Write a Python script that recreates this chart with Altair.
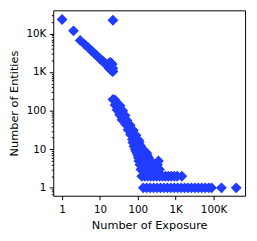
import altair as alt
import pandas as pd

# Upper group (exposure 1..22)
upper_x = [1, 2, 3, 4, 5, 6, 7, 8, 9, 10, 11, 12, 13, 14, 15, 16,
           17, 18, 19, 20, 21, 22, 17, 18, 19, 20, 21, 22, 22]
upper_y = [23000, 11700, 6600, 5140, 4210, 3540, 3080, 2730, 2440, 2200, 2040, 1890, 1760, 1650, 1560, 1480,
           1290, 1230, 1170, 1110, 1060, 1030, 1650, 1750, 1750, 1700, 1600, 1250, 22000]

# Lower diagonal band
band_x = [22, 25, 25, 30, 34, 28, 34, 40, 33, 40, 46, 38, 45, 52, 48, 55, 63,
          55, 66, 76, 64, 74, 89, 72, 86, 106, 74, 89, 109, 79, 97, 120, 86, 106, 135,
          89, 113, 143, 94, 113, 139, 171, 100, 120, 148, 177, 103, 127, 157, 193]
band_y = [195, 190, 140, 138, 135, 105, 103, 100, 78, 77, 75, 58, 57, 56, 44, 43, 42,
          32, 32, 31, 24, 24, 23, 18, 18, 17, 15, 15, 15, 12, 12, 12, 10, 10, 10,
          9, 9, 9, 8, 8, 8, 8, 7, 7, 7, 7, 6, 6, 6, 6]

# Small-count rows
rows_x = [106, 131, 161, 193, 218, 351,
          113, 135, 161, 193, 231, 277, 331,
          120, 143, 171, 205, 245, 294, 373,
          127, 152, 182, 218, 261, 312, 373, 446, 534, 638, 764, 914, 1094, 1450,
          139, 171, 211, 261, 321, 396, 488, 601, 741, 914, 1127, 1389, 1714, 2112,
          2604, 3209, 3955, 4875, 6010, 7413, 8872, 16140, 39560]
rows_y = [5, 5, 5, 5, 5, 5,
          4, 4, 4, 4, 4, 4, 4,
          3, 3, 3, 3, 3, 3, 3,
          2, 2, 2, 2, 2, 2, 2, 2, 2, 2, 2, 2, 2, 2,
          1, 1, 1, 1, 1, 1, 1, 1, 1, 1, 1, 1, 1, 1,
          1, 1, 1, 1, 1, 1, 1, 1, 1]

x_ticks = [1, 10, 100, 1000, 10000]
y_major = [1, 10, 100, 1000, 10000]
y_minor = [0.7, 0.8, 0.9, 2, 3, 4, 5, 6, 7, 8, 9, 20, 30, 40, 50, 60, 70, 80, 90,
           200, 300, 400, 500, 600, 700, 800, 900, 2000, 3000, 4000, 5000, 6000, 7000,
           8000, 9000, 20000, 30000]

df = pd.DataFrame({
    "exposure": upper_x + band_x + rows_x,
    "entities": upper_y + band_y + rows_y,
})

FONT = "DejaVu Sans"

x_axis = alt.Axis(
    values=x_ticks,
    labelExpr="datum.value >= 10000 ? '100K' : datum.value >= 1000 ? '1K' : format(datum.value, 'd')",
    title="Number of Exposure",
    tickSize=4,
    labelPadding=13,
    labelBaseline="alphabetic",
    labelOverlap=False,
    labelFlush=False,
    titleX=97.5,
    titleY=33,
    titleBaseline="alphabetic",
    titleAlign="center",
)

y_axis = alt.Axis(
    values=y_major + y_minor,
    labelExpr="datum.value == 10000 ? '10K' : datum.value == 1000 ? '1K' : indexof([1, 10, 100], datum.value) >= 0 ? format(datum.value, 'd') : ''",
    title="Number of Entities",
    tickSize={"condition": {"test": "indexof([1, 10, 100, 1000, 10000], datum.value) >= 0", "value": 4}, "value": 2},
    labelPadding=3.5,
    labelBaseline="middle",
    labelOverlap=False,
    labelFlush=False,
    titleAngle=270,
    titleX=-36.7,
    titleY=94.25,
    titleBaseline="alphabetic",
    titleAlign="center",
)

chart = alt.Chart(df).mark_point(
    shape="diamond", filled=True, size=121, color="#213cff", opacity=1
).encode(
    x=alt.X("exposure:Q", scale=alt.Scale(type="log", domain=[0.584, 67800], nice=False), axis=x_axis),
    y=alt.Y("entities:Q", scale=alt.Scale(type="log", domain=[0.625, 39700], nice=False), axis=y_axis),
).properties(
    width=195,
    height=188.5,
    autosize=alt.AutoSizeParams(type="none"),
    padding={"left": 46, "top": 0.5, "right": 4, "bottom": 36},
).configure_view(
    stroke="black", strokeWidth=1
).configure_axis(
    domain=False, grid=False, tickColor="black", tickWidth=1,
    labelFont=FONT, labelFontSize=10.5, labelColor="black",
    titleFont=FONT, titleFontSize=11.5, titleFontWeight="normal", titleColor="black",
)

chart.save("out.html", embed_options={"renderer": "svg", "actions": False})
